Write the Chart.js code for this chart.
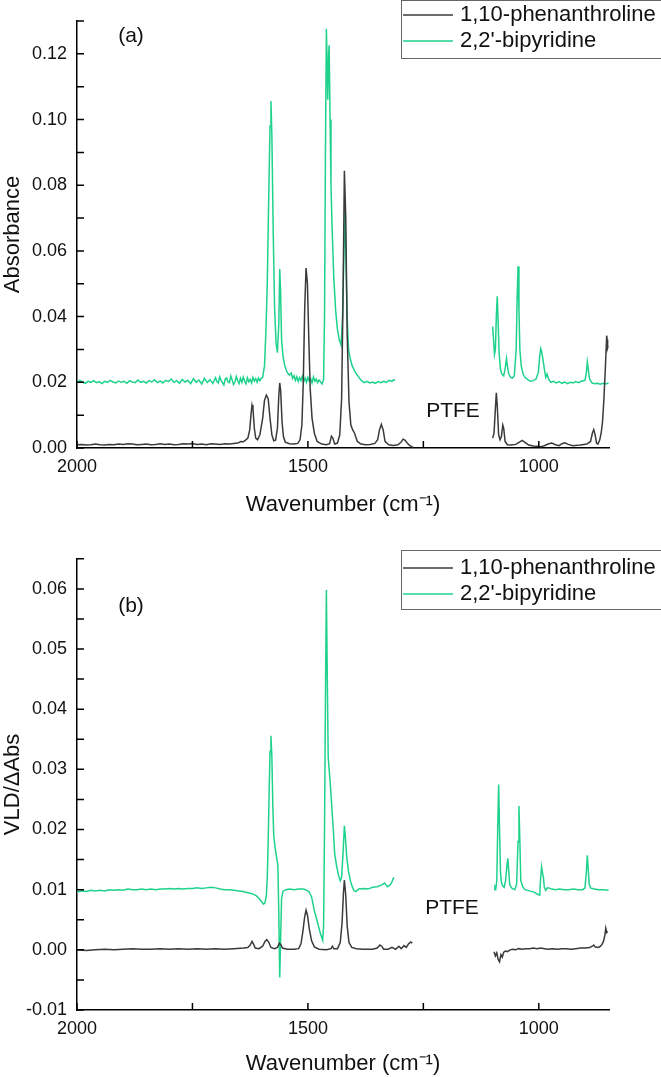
<!DOCTYPE html>
<html>
<head>
<meta charset="utf-8">
<script src="https://cdn.jsdelivr.net/npm/chart.js@4.4.0/dist/chart.umd.min.js"></script>
<style>
  body { margin: 0; background: #fff; }
  .panel { position: absolute; left: 0; width: 661px; }
</style>
</head>
<body>
<div class="panel" style="top:0;height:538px"><canvas id="graficoA"></canvas></div>
<div class="panel" style="top:538px;height:539px"><canvas id="graficoB"></canvas></div>
<script>
// wavenumber ticks (cm-1) and labels
const xTicksLabeled = [2000, 1500, 1000];
const labels = ['1,10-phenanthroline', "2,2'-bipyridine"];

// (a) absorbance, 1,10-phenanthroline, before / after the PTFE gap
const phenA1 = [[2000,0.0010],[1990,0.0011],[1980,0.0009],[1970,0.0010],[1960,0.0012],[1950,0.0010],[1940,0.0009],[1930,0.0011],[1920,0.0010],[1910,0.0012],[1900,0.0011],[1890,0.0013],[1880,0.0012],[1870,0.0010],[1860,0.0011],[1850,0.0012],[1840,0.0010],[1830,0.0011],[1820,0.0013],[1810,0.0011],[1800,0.0012],[1790,0.0010],[1780,0.0011],[1770,0.0013],[1760,0.0012],[1750,0.0014],[1740,0.0011],[1730,0.0012],[1720,0.0010],[1710,0.0013],[1700,0.0012],[1690,0.0011],[1680,0.0013],[1670,0.0012],[1660,0.0014],[1650,0.0016],[1645,0.0020],[1640,0.0019],[1635,0.0024],[1630,0.0030],[1626,0.0055],[1623,0.0105],[1621,0.0131],[1619,0.0120],[1616,0.0060],[1613,0.0030],[1609,0.0025],[1604,0.0040],[1598,0.0090],[1594,0.0145],[1590,0.0161],[1586,0.0150],[1582,0.0090],[1578,0.0040],[1574,0.0022],[1570,0.0024],[1566,0.0060],[1563,0.0160],[1561,0.0198],[1559,0.0175],[1556,0.0080],[1553,0.0035],[1549,0.0018],[1540,0.0013],[1530,0.0012],[1522,0.0014],[1517,0.0025],[1513,0.0070],[1510,0.0200],[1507,0.0420],[1504,0.0548],[1501,0.0500],[1498,0.0330],[1495,0.0180],[1491,0.0090],[1486,0.0045],[1480,0.0020],[1470,0.0012],[1460,0.0010],[1453,0.0013],[1449,0.0036],[1446,0.0030],[1442,0.0012],[1436,0.0015],[1431,0.0040],[1427,0.0150],[1424,0.0450],[1421,0.0844],[1418,0.0700],[1415,0.0350],[1411,0.0140],[1407,0.0070],[1403,0.0055],[1399,0.0045],[1393,0.0020],[1385,0.0012],[1375,0.0010],[1365,0.0011],[1355,0.0014],[1349,0.0025],[1345,0.0055],[1341,0.0072],[1337,0.0055],[1333,0.0020],[1325,0.0010],[1315,0.0008],[1305,0.0010],[1298,0.0018],[1294,0.0027],[1290,0.0024],[1285,0.0015],[1280,0.0008],[1275,0.0004],[1272,0.0002]];
const phenA2 = [[1100,0.0030],[1097,0.0045],[1094,0.0120],[1092,0.0168],[1090,0.0130],[1087,0.0040],[1084,0.0025],[1081,0.0035],[1078,0.0070],[1076,0.0060],[1073,0.0020],[1068,0.0010],[1060,0.0009],[1050,0.0011],[1042,0.0018],[1036,0.0023],[1030,0.0017],[1022,0.0009],[1012,0.0006],[1004,0.0005],[996,0.0004],[988,0.0007],[980,0.0012],[972,0.0015],[964,0.0010],[956,0.0007],[950,0.0013],[944,0.0016],[936,0.0011],[926,0.0007],[916,0.0008],[906,0.0010],[896,0.0012],[888,0.0020],[884,0.0045],[881,0.0056],[878,0.0040],[875,0.0015],[872,0.0012],[868,0.0025],[865,0.0045],[862,0.0080],[859,0.0150],[856,0.0240],[853,0.0342],[852,0.0330],[851,0.0305],[850,0.0310]];

// (a) absorbance, 2,2'-bipyridine
const bipyA1 = [[2000,0.0198],[1994,0.0206],[1988,0.0201],[1982,0.0197],[1976,0.0203],[1970,0.0200],[1964,0.0205],[1958,0.0199],[1952,0.0202],[1946,0.0196],[1940,0.0203],[1934,0.0200],[1928,0.0206],[1922,0.0201],[1916,0.0198],[1910,0.0204],[1904,0.0200],[1898,0.0203],[1892,0.0197],[1886,0.0205],[1880,0.0201],[1874,0.0199],[1868,0.0207],[1862,0.0200],[1856,0.0203],[1850,0.0198],[1844,0.0205],[1838,0.0201],[1832,0.0208],[1826,0.0199],[1820,0.0204],[1814,0.0198],[1808,0.0206],[1802,0.0202],[1796,0.0210],[1790,0.0200],[1784,0.0205],[1778,0.0197],[1772,0.0209],[1766,0.0201],[1760,0.0206],[1754,0.0196],[1748,0.0211],[1742,0.0200],[1736,0.0207],[1730,0.0195],[1724,0.0212],[1718,0.0199],[1712,0.0208],[1706,0.0196],[1700,0.0214],[1697,0.0202],[1694,0.0198],[1691,0.0217],[1688,0.0206],[1685,0.0199],[1682,0.0192],[1679,0.0210],[1676,0.0213],[1673,0.0201],[1670,0.0199],[1667,0.0219],[1664,0.0207],[1661,0.0193],[1658,0.0201],[1655,0.0218],[1652,0.0205],[1649,0.0196],[1646,0.0212],[1643,0.0200],[1640,0.0216],[1637,0.0203],[1634,0.0195],[1631,0.0214],[1628,0.0202],[1625,0.0209],[1622,0.0198],[1619,0.0215],[1616,0.0204],[1613,0.0211],[1610,0.0200],[1607,0.0213],[1604,0.0205],[1601,0.0212],[1598,0.0215],[1594,0.0250],[1591,0.0350],[1588,0.0500],[1585,0.0750],[1582,0.0980],[1580,0.1056],[1578,0.0950],[1575,0.0650],[1572,0.0420],[1569,0.0320],[1566,0.0290],[1563,0.0380],[1561,0.0545],[1559,0.0470],[1557,0.0330],[1554,0.0280],[1550,0.0250],[1545,0.0230],[1540,0.0222],[1536,0.0228],[1533,0.0212],[1530,0.0220],[1527,0.0206],[1524,0.0217],[1521,0.0203],[1518,0.0214],[1515,0.0205],[1512,0.0219],[1509,0.0202],[1506,0.0213],[1503,0.0200],[1500,0.0215],[1497,0.0204],[1494,0.0211],[1491,0.0198],[1488,0.0216],[1485,0.0203],[1482,0.0210],[1479,0.0199],[1476,0.0207],[1472,0.0200],[1469,0.0195],[1466,0.0210],[1464,0.0400],[1462,0.0900],[1460,0.1276],[1458,0.1150],[1457,0.1060],[1455,0.1200],[1454,0.1226],[1452,0.1000],[1450,0.0800],[1448,0.0690],[1444,0.0520],[1440,0.0420],[1436,0.0360],[1432,0.0330],[1428,0.0313],[1425,0.0400],[1422,0.0600],[1420,0.0735],[1418,0.0600],[1415,0.0400],[1412,0.0300],[1408,0.0270],[1404,0.0250],[1400,0.0238],[1396,0.0228],[1390,0.0216],[1384,0.0205],[1378,0.0199],[1372,0.0203],[1366,0.0198],[1360,0.0201],[1354,0.0197],[1348,0.0202],[1342,0.0199],[1336,0.0203],[1330,0.0200],[1324,0.0206],[1318,0.0203],[1314,0.0208],[1311,0.0206]];
const bipyA2 = [[1100,0.0370],[1098,0.0330],[1096,0.0285],[1094,0.0300],[1092,0.0400],[1090,0.0462],[1088,0.0380],[1086,0.0290],[1083,0.0240],[1080,0.0225],[1076,0.0220],[1073,0.0240],[1070,0.0272],[1068,0.0250],[1065,0.0225],[1061,0.0215],[1057,0.0213],[1053,0.0220],[1049,0.0300],[1047,0.0450],[1045,0.0553],[1043,0.0420],[1041,0.0300],[1038,0.0250],[1034,0.0225],[1030,0.0215],[1024,0.0208],[1018,0.0203],[1012,0.0205],[1006,0.0210],[1001,0.0230],[998,0.0280],[996,0.0303],[994,0.0295],[991,0.0270],[988,0.0240],[985,0.0215],[982,0.0225],[979,0.0210],[974,0.0200],[968,0.0203],[962,0.0198],[956,0.0202],[950,0.0197],[944,0.0201],[938,0.0196],[932,0.0200],[926,0.0198],[920,0.0202],[914,0.0199],[908,0.0203],[900,0.0206],[897,0.0230],[895,0.0262],[893,0.0240],[890,0.0210],[885,0.0198],[879,0.0196],[873,0.0197],[867,0.0194],[861,0.0197],[855,0.0195],[849,0.0198]];

// (b) VLD / dAbs, 1,10-phenanthroline
const phenB1 = [[2000,0.0000],[1980,-0.0001],[1960,0.0000],[1940,0.0001],[1920,0.0000],[1900,0.0001],[1880,0.0002],[1860,0.0001],[1840,0.0001],[1820,0.0002],[1800,0.0001],[1780,0.0002],[1760,0.0001],[1740,0.0002],[1720,0.0001],[1700,0.0002],[1680,0.0001],[1660,0.0002],[1640,0.0003],[1630,0.0004],[1625,0.0008],[1621,0.0014],[1618,0.0010],[1614,0.0003],[1606,0.0002],[1598,0.0006],[1593,0.0014],[1589,0.0017],[1585,0.0013],[1580,0.0004],[1572,0.0002],[1566,0.0004],[1562,0.0011],[1559,0.0009],[1555,0.0003],[1545,0.0001],[1530,0.0001],[1520,0.0002],[1515,0.0010],[1511,0.0030],[1507,0.0055],[1504,0.0066],[1501,0.0058],[1497,0.0035],[1492,0.0015],[1486,0.0005],[1476,0.0001],[1460,0.0000],[1450,0.0002],[1447,0.0006],[1444,0.0002],[1436,0.0002],[1430,0.0012],[1426,0.0045],[1423,0.0095],[1421,0.0116],[1418,0.0090],[1415,0.0040],[1411,0.0012],[1405,0.0004],[1395,0.0002],[1380,0.0001],[1360,0.0001],[1350,0.0003],[1344,0.0008],[1340,0.0006],[1336,0.0001],[1326,0.0001],[1318,0.0004],[1310,0.0001],[1303,0.0006],[1298,0.0002],[1292,0.0007],[1287,0.0004],[1282,0.0010],[1277,0.0013],[1274,0.0011]];
const phenB2 = [[1097,-0.0003],[1094,-0.0010],[1091,-0.0005],[1088,-0.0016],[1085,-0.0020],[1082,-0.0008],[1079,-0.0012],[1076,-0.0004],[1072,-0.0002],[1068,-0.0003],[1062,0.0000],[1056,0.0001],[1050,0.0000],[1044,0.0002],[1036,0.0001],[1028,0.0002],[1020,0.0002],[1012,0.0003],[1004,0.0002],[996,0.0003],[988,0.0002],[980,0.0001],[970,0.0002],[960,0.0001],[950,0.0002],[940,0.0002],[930,0.0001],[920,0.0002],[910,0.0003],[900,0.0003],[890,0.0004],[884,0.0006],[881,0.0008],[878,0.0005],[873,0.0004],[868,0.0005],[864,0.0008],[860,0.0014],[857,0.0024],[855,0.0036],[853,0.0029],[851,0.0031]];

// (b) VLD / dAbs, 2,2'-bipyridine
const bipyB1 = [[2000,0.0096],[1990,0.0098],[1980,0.0097],[1970,0.0099],[1960,0.0098],[1950,0.0099],[1940,0.0098],[1930,0.0100],[1920,0.0099],[1910,0.0100],[1900,0.0099],[1890,0.0101],[1880,0.0100],[1870,0.0100],[1860,0.0101],[1850,0.0100],[1840,0.0101],[1830,0.0100],[1820,0.0101],[1810,0.0101],[1800,0.0102],[1790,0.0101],[1780,0.0102],[1770,0.0101],[1760,0.0102],[1750,0.0102],[1740,0.0103],[1730,0.0102],[1720,0.0103],[1710,0.0104],[1700,0.0103],[1690,0.0101],[1680,0.0100],[1670,0.0100],[1660,0.0099],[1650,0.0098],[1640,0.0097],[1630,0.0095],[1620,0.0093],[1612,0.0090],[1605,0.0085],[1600,0.0080],[1596,0.0076],[1593,0.0078],[1590,0.0090],[1588,0.0120],[1586,0.0180],[1584,0.0260],[1582,0.0330],[1580,0.0356],[1578,0.0320],[1576,0.0240],[1574,0.0190],[1571,0.0170],[1568,0.0155],[1565,0.0140],[1563,0.0060],[1561,-0.0046],[1559,0.0020],[1557,0.0085],[1554,0.0097],[1548,0.0100],[1540,0.0101],[1530,0.0100],[1520,0.0101],[1510,0.0101],[1505,0.0100],[1498,0.0097],[1492,0.0088],[1486,0.0065],[1480,0.0048],[1474,0.0030],[1468,0.0016],[1466,0.0040],[1464,0.0200],[1462,0.0420],[1460,0.0598],[1458,0.0450],[1456,0.0320],[1454,0.0300],[1451,0.0270],[1448,0.0235],[1445,0.0200],[1442,0.0160],[1438,0.0140],[1434,0.0125],[1430,0.0115],[1427,0.0120],[1424,0.0160],[1421,0.0206],[1419,0.0190],[1416,0.0155],[1412,0.0130],[1408,0.0115],[1404,0.0105],[1400,0.0098],[1396,0.0097],[1390,0.0101],[1380,0.0102],[1370,0.0101],[1360,0.0104],[1350,0.0105],[1340,0.0108],[1334,0.0111],[1328,0.0105],[1322,0.0108],[1318,0.0113],[1315,0.0119],[1313,0.0120]];
const bipyB2 = [[1097,0.0100],[1095,0.0105],[1093,0.0102],[1091,0.0115],[1089,0.0200],[1087,0.0275],[1085,0.0200],[1083,0.0130],[1081,0.0112],[1078,0.0106],[1075,0.0104],[1072,0.0115],[1069,0.0140],[1067,0.0152],[1065,0.0130],[1063,0.0108],[1058,0.0102],[1052,0.0100],[1048,0.0110],[1045,0.0180],[1043,0.0239],[1041,0.0180],[1039,0.0115],[1035,0.0105],[1030,0.0100],[1020,0.0098],[1010,0.0096],[1002,0.0092],[998,0.0091],[996,0.0120],[994,0.0138],[992,0.0128],[990,0.0120],[988,0.0104],[985,0.0099],[982,0.0103],[978,0.0103],[972,0.0101],[964,0.0100],[955,0.0101],[945,0.0100],[935,0.0100],[925,0.0101],[915,0.0100],[905,0.0100],[900,0.0103],[897,0.0130],[895,0.0157],[893,0.0135],[891,0.0110],[888,0.0103],[880,0.0101],[870,0.0100],[860,0.0100],[849,0.0099]];

const FONT = '"Liberation Sans", Arial, sans-serif';
const NEGRO = '#3a3a3a';
const VERDE = '#1ed28c';

// join the two segments with a null so the line breaks at the PTFE window
function serie(a, b) {
  const pts = a.map(p => ({ x: p[0], y: p[1] }));
  pts.push({ x: 1200, y: null });
  return pts.concat(b.map(p => ({ x: p[0], y: p[1] })));
}

// inward tick marks on both axes
const marcas = {
  id: 'marcas',
  afterDraw(chart) {
    const { ctx, chartArea: a, scales: { x, y } } = chart;
    ctx.save();
    ctx.strokeStyle = '#000';
    ctx.lineWidth = 1.5;
    ctx.beginPath();
    x.ticks.forEach(t => {
      const px = x.getPixelForValue(t.value);
      ctx.moveTo(px, a.bottom); ctx.lineTo(px, a.bottom - 7);
    });
    y.ticks.forEach(t => {
      const py = y.getPixelForValue(t.value);
      ctx.moveTo(a.left, py); ctx.lineTo(a.left + 7, py);
    });
    ctx.stroke();
    ctx.restore();
  }
};

// boxed legend in the top right corner + free text labels
const leyenda = {
  id: 'leyenda',
  afterDraw(chart, args, opts) {
    const ctx = chart.ctx;
    ctx.save();
    ctx.strokeStyle = '#666';
    ctx.lineWidth = 1;
    ctx.strokeRect(401.5, opts.top + 0.5, 300, opts.alto);
    ctx.font = '22px ' + FONT;
    ctx.textBaseline = 'middle';
    chart.data.datasets.forEach((ds, i) => {
      const yy = opts.filas[i];
      ctx.strokeStyle = ds.borderColor;
      ctx.lineWidth = 1.5;
      ctx.beginPath(); ctx.moveTo(403, yy); ctx.lineTo(453, yy); ctx.stroke();
      ctx.fillStyle = '#111';
      ctx.fillText(ds.label, 460, yy);
    });
    ctx.font = '21px ' + FONT;
    ctx.textAlign = 'center';
    opts.textos.forEach(t => ctx.fillText(t.texto, t.x, t.y));
    ctx.restore();
  }
};

function crear(id, d1, d2, yMin, yMax, yStep, yTitulo, etiqueta, pad, xAlto, ley) {
  return new Chart(document.getElementById(id), {
    type: 'line',
    data: {
      datasets: [
        { label: labels[0], data: d1, borderColor: NEGRO, borderWidth: 1.5, pointRadius: 0, spanGaps: false },
        { label: labels[1], data: d2, borderColor: VERDE, borderWidth: 1.5, pointRadius: 0, spanGaps: false }
      ]
    },
    options: {
      responsive: true,
      maintainAspectRatio: false,
      animation: false,
      layout: { padding: pad },
      plugins: { legend: { display: false }, tooltip: { enabled: false }, leyenda: ley },
      scales: {
        x: {
          type: 'linear', reverse: true, min: 848, max: 2000,
          afterFit: s => { s.height = xAlto; },
          grid: { display: false, drawTicks: false },
          border: { display: true, color: '#000', width: 1.5 },
          ticks: {
            stepSize: 250, includeBounds: false, autoSkip: false, maxRotation: 0, padding: 8,
            color: '#111', font: { family: FONT, size: 18 },
            callback: v => xTicksLabeled.includes(Math.round(v)) ? String(Math.round(v)) : ''
          },
          title: { display: true, text: 'Wavenumber (cm\u207B\u00B9)', color: '#111', font: { family: FONT, size: 22 }, padding: 0 }
        },
        y: {
          min: yMin, max: yMax,
          afterFit: s => { s.width = 77; },
          grid: { display: false, drawTicks: false },
          border: { display: true, color: '#000', width: 1.5 },
          ticks: {
            stepSize: yStep, includeBounds: false, autoSkip: false, padding: 10,
            color: '#111', font: { family: FONT, size: 18 },
            callback: v => etiqueta(v)
          },
          title: { display: true, text: yTitulo, color: '#111', font: { family: FONT, size: 22 }, padding: 0 }
        }
      }
    },
    plugins: [marcas, leyenda]
  });
}

function fmt(v) { return Math.abs(v) < 1e-9 ? '0.00' : v.toFixed(2); }

crear('graficoA', serie(phenA1, phenA2), serie(bipyA1, bipyA2), 0, 0.13, 0.01, 'Absorbance',
  v => (Math.round(v * 100) % 2 === 0) ? fmt(v) : '',
  { top: 21, right: 52, bottom: 20, left: 0 }, 70,
  { top: 0, alto: 58, filas: [15, 41], textos: [{ texto: '(a)', x: 131, y: 36 }, { texto: 'PTFE', x: 453, y: 411 }] });

crear('graficoB', serie(phenB1, phenB2), serie(bipyB1, bipyB2), -0.01, 0.065, 0.005, 'VLD/\u0394Abs',
  v => (Math.abs(Math.round(v * 1000)) % 10 === 0) ? fmt(v) : '',
  { top: 14, right: 52, bottom: 0, left: 0 }, 67,
  { top: 12, alto: 59, filas: [30, 56], textos: [{ texto: '(b)', x: 131, y: 68 }, { texto: 'PTFE', x: 452, y: 370 }] });
</script>
</body>
</html>
